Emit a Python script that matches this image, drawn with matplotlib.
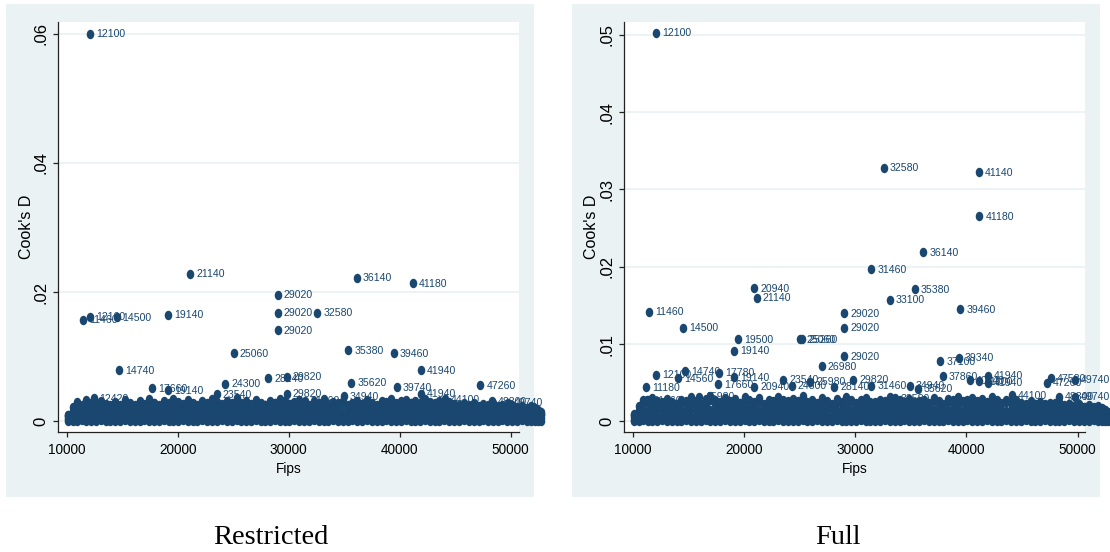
import matplotlib
matplotlib.use("Agg")
import matplotlib.pyplot as plt
from matplotlib import font_manager
from matplotlib.patches import Rectangle
from matplotlib.path import Path
from matplotlib.transforms import Affine2D

# ---- labelled observations (fips, Cook's D, label) ----
restricted_fips = [12100, 21140, 36140, 41180, 29020, 29020, 32580, 29020, 19140, 14500,
                   12100, 11460, 25060, 35380, 39460, 14740, 41940, 28140, 29820, 24300,
                   35620, 47260, 17660, 19140, 39740, 29820, 23540, 34940, 41940, 44100,
                   12420, 31460, 48300, 49740, 11020]
restricted_cook = [0.0600, 0.0228, 0.0222, 0.0214, 0.0196, 0.0168, 0.0168, 0.0141, 0.0165, 0.0161,
                   0.0162, 0.0157, 0.0105, 0.0110, 0.0105, 0.0079, 0.0079, 0.0067, 0.0069, 0.0058,
                   0.0060, 0.0056, 0.0051, 0.0048, 0.0053, 0.0043, 0.0042, 0.0039, 0.0043, 0.0034,
                   0.0036, 0.0032, 0.0031, 0.0029, 0.0024]
restricted_labels = [str(f) for f in restricted_fips]

full_fips = [12100, 32580, 41140, 41180, 36140, 31460, 20940, 35380, 21140, 33100,
             39460, 11460, 29020, 29020, 14500, 19500, 25060, 25260, 19140, 29020,
             39340, 37660, 26980, 14740, 17780, 12100, 37860, 41940, 41940, 19140,
             14100, 29820, 23540, 40340, 41100, 25980, 47260, 47580, 49740, 17660,
             20940, 24300, 28140, 31460, 34940, 11180, 35620, 44100, 15980, 48300,
             49740, 11260, 33580]
full_cook = [0.0503, 0.0328, 0.0322, 0.0265, 0.0219, 0.0197, 0.0172, 0.0171, 0.0160, 0.0157,
             0.0145, 0.0142, 0.0140, 0.0121, 0.0121, 0.0106, 0.0106, 0.0106, 0.0091, 0.0084,
             0.0082, 0.0078, 0.0071, 0.0065, 0.0063, 0.0060, 0.0058, 0.0059, 0.0050, 0.0057,
             0.0056, 0.0054, 0.0054, 0.0053, 0.0052, 0.0051, 0.0050, 0.0056, 0.0054, 0.0048,
             0.0045, 0.0046, 0.0045, 0.0046, 0.0046, 0.0044, 0.0042, 0.0034, 0.0032, 0.0032,
             0.0032, 0.0027, 0.0030]
full_labels = ["12100", "32580", "41140", "41180", "36140", "31460", "20940", "35380", "21140", "33100",
               "39460", "11460", "29020", "29020", "14500", "19500", "25060", "25260", "19140", "29020",
               "39340", "37100", "26980", "14740", "17780", "12100", "37860", "41940", "41940", "19140",
               "14560", "29820", "23540", "40340", "41100", "25980", "47260", "47580", "49740", "17660",
               "20940", "24300", "28140", "31460", "34940", "11180", "35620", "44100", "15980", "48300",
               "49740", "11260", "33580"]

# ---- the dense mass of small values (Cook's D in units of 1e-4) ----
cloud_fips = [10100, 10540, 10900, 11340, 11780, 12220, 12620, 13060, 13500, 13940,
              14380, 14820, 15260, 15700, 16140, 16580, 16980, 17420, 17860, 18300,
              18740, 19180, 19620, 20060, 20500, 20940, 21340, 21780, 22220, 22660,
              23100, 23540, 23980, 24420, 24860, 25300, 25700, 26140, 26580, 27020,
              27460, 27900, 28340, 28780, 29220, 29660, 30060, 30500, 30940, 31380,
              31820, 32260, 32700, 33140, 33580, 34020, 34420, 34860, 35300, 35740,
              36180, 36620, 37060, 37500, 37940, 38380, 38780, 39220, 39660, 40100,
              40540, 40980, 41420, 41860, 42300, 42740, 43140, 43580, 44020, 44460,
              44900, 45340, 45780, 46220, 46660, 47100, 47500, 47940, 48380, 48820,
              49260, 49700, 50140, 50580, 51020, 51460, 51860, 52180, 52480, 52700]

restricted_lo = [0, 1, 0, 2, 1, 0, 1, 2, 0, 1, 1, 0, 2, 1, 0, 1, 2, 0, 1, 0,
                 2, 1, 0, 1, 2, 0, 1, 0, 2, 1, 0, 1, 2, 0, 1, 2, 0, 1, 0, 2,
                 1, 0, 1, 2, 0, 1, 0, 2, 1, 0, 1, 2, 0, 1, 0, 2, 1, 0, 1, 2,
                 0, 1, 2, 0, 1, 0, 2, 1, 0, 1, 2, 0, 1, 0, 2, 1, 0, 1, 2, 0,
                 1, 0, 2, 1, 0, 1, 2, 0, 1, 0, 2, 1, 0, 1, 2, 0, 1, 0, 1, 0]
restricted_mid = [3, 6, 8, 7, 9, 8, 7, 9, 8, 7, 8, 9, 7, 8, 9, 7, 8, 9, 8, 7,
                  9, 8, 7, 9, 8, 9, 7, 8, 9, 8, 7, 9, 8, 7, 9, 8, 7, 9, 8, 9,
                  8, 7, 9, 8, 7, 9, 8, 7, 9, 8, 7, 9, 8, 9, 7, 8, 9, 7, 8, 9,
                  8, 7, 9, 8, 9, 7, 8, 9, 8, 7, 9, 8, 7, 9, 8, 9, 7, 8, 9, 8,
                  8, 9, 7, 8, 9, 7, 8, 9, 7, 8, 9, 7, 8, 9, 7, 8, 6, 7, 6, 5]
restricted_hi = [6, 12, 16, 15, 17, 16, 18, 15, 17, 16, 18, 15, 17, 16, 18, 17, 15, 18, 16, 17,
                 17, 18, 16, 17, 15, 18, 16, 17, 18, 16, 17, 16, 18, 15, 17, 18, 16, 17, 15, 18,
                 16, 17, 18, 16, 17, 15, 18, 16, 17, 18, 16, 18, 15, 17, 16, 18, 17, 15, 16, 18,
                 17, 16, 18, 17, 15, 18, 16, 17, 18, 17, 18, 17, 16, 18, 17, 16, 18, 17, 15, 17,
                 16, 18, 15, 17, 16, 15, 17, 16, 15, 16, 15, 14, 16, 13, 15, 14, 12, 13, 11, 9]
restricted_top = [9, 16, 24, 20, 22, 26, 28, 22, 25, 21, 24, 20, 27, 23, 21, 26, 22, 25, 28, 23,
                  24, 27, 22, 29, 25, 23, 27, 24, 21, 26, 23, 28, 25, 22, 26, 24, 21, 27, 23, 25,
                  22, 26, 24, 28, 23, 21, 27, 25, 22, 26, 24, 22, 27, 23, 25, 21, 26, 28, 24, 22,
                  25, 23, 27, 24, 22, 26, 28, 25, 23, 27, 26, 29, 24, 27, 25, 23, 28, 24, 26, 22,
                  23, 21, 25, 22, 24, 20, 23, 21, 24, 20, 21, 19, 22, 18, 20, 17, 19, 16, 15, 12]
restricted_up = [10, 22, 30, 26, 33, 28, 24, 31, 27, 25, 30, 26, 33, 28, 25, 31, 27, 34, 29, 26,
                 32, 28, 35, 30, 27, 33, 29, 26, 31, 28, 34, 30, 27, 32, 29, 36, 28, 31, 27, 33,
                 29, 26, 32, 28, 35, 31, 27, 30, 33, 28, 26, 31, 29, 34, 27, 30, 28, 32, 26, 29,
                 31, 27, 33, 29, 26, 32, 30, 35, 28, 31, 33, 29, 32, 28, 34, 30, 27, 31, 28, 30,
                 27, 25, 29, 26, 28, 24, 27, 25, 28, 24, 25, 23, 26, 22, 24, 21, 23, 20, 18, 14]

full_lo = [0, 1, 2, 0, 1, 0, 2, 1, 0, 1, 0, 2, 1, 0, 1, 2, 0, 1, 0, 2,
           1, 0, 1, 2, 0, 1, 2, 0, 1, 0, 2, 1, 0, 1, 0, 2, 1, 0, 2, 1,
           0, 1, 2, 0, 1, 0, 1, 2, 0, 1, 0, 1, 2, 0, 1, 0, 2, 1, 0, 1,
           2, 0, 1, 0, 1, 2, 0, 1, 0, 2, 1, 0, 1, 2, 0, 1, 0, 2, 1, 0,
           1, 2, 0, 1, 0, 2, 1, 0, 1, 0, 2, 1, 0, 1, 0, 2, 1, 0, 1, 0]
full_mid = [2, 5, 7, 6, 8, 7, 6, 8, 7, 6, 7, 8, 6, 7, 8, 6, 7, 8, 7, 6,
            8, 7, 6, 8, 7, 8, 6, 7, 8, 7, 6, 8, 7, 6, 8, 7, 6, 8, 7, 8,
            7, 6, 8, 7, 6, 8, 7, 6, 8, 7, 6, 8, 7, 8, 6, 7, 8, 6, 7, 8,
            7, 6, 8, 7, 8, 6, 7, 8, 7, 6, 8, 7, 6, 8, 7, 8, 6, 7, 8, 7,
            7, 8, 6, 7, 8, 6, 7, 8, 6, 7, 8, 6, 7, 8, 6, 7, 6, 5, 6, 4]
full_hi = [5, 11, 14, 13, 15, 14, 16, 13, 15, 14, 15, 13, 16, 14, 15, 13, 15, 14, 16, 13,
           14, 16, 13, 15, 14, 16, 13, 15, 14, 16, 15, 13, 16, 14, 15, 13, 16, 14, 15, 13,
           14, 16, 13, 15, 16, 14, 13, 15, 14, 16, 13, 15, 14, 16, 13, 15, 16, 14, 15, 13,
           16, 14, 15, 13, 16, 15, 14, 16, 13, 15, 14, 16, 15, 13, 16, 14, 15, 13, 14, 16,
           15, 13, 14, 16, 13, 15, 14, 13, 15, 14, 13, 14, 12, 14, 13, 12, 13, 11, 12, 9]
full_top = [8, 15, 22, 27, 20, 23, 25, 21, 24, 20, 22, 26, 21, 24, 19, 23, 28, 22, 25, 21,
            23, 20, 24, 22, 26, 21, 25, 20, 23, 22, 24, 21, 26, 23, 20, 25, 22, 24, 21, 23,
            25, 21, 24, 22, 20, 26, 23, 21, 24, 22, 25, 21, 23, 26, 22, 24, 20, 23, 25, 21,
            24, 22, 26, 23, 21, 25, 24, 22, 26, 23, 25, 22, 24, 21, 26, 23, 22, 25, 24, 21,
            23, 21, 24, 22, 20, 23, 21, 24, 22, 20, 22, 19, 21, 18, 20, 17, 18, 16, 14, 11]
full_up = [9, 20, 27, 24, 30, 26, 22, 29, 25, 23, 28, 24, 31, 26, 23, 29, 33, 27, 24, 30,
           26, 29, 24, 32, 27, 25, 30, 23, 28, 26, 31, 27, 24, 29, 26, 33, 25, 28, 24, 30,
           26, 23, 29, 25, 32, 28, 24, 27, 30, 25, 23, 28, 26, 31, 24, 27, 25, 29, 23, 26,
           28, 24, 30, 26, 23, 29, 27, 32, 25, 28, 30, 26, 29, 25, 31, 27, 24, 28, 25, 27,
           24, 22, 26, 23, 25, 21, 24, 22, 25, 21, 22, 20, 23, 19, 21, 18, 20, 17, 15, 12]

panels = [
    dict(caption="Restricted", fips=restricted_fips, cook=restricted_cook, labels=restricted_labels,
         rows=[restricted_lo, restricted_mid, restricted_hi, restricted_top, restricted_up],
         yticks=[0, 0.02, 0.04, 0.06], yticklabels=["0", ".02", ".04", ".06"]),
    dict(caption="Full", fips=full_fips, cook=full_cook, labels=full_labels,
         rows=[full_lo, full_mid, full_hi, full_top, full_up],
         yticks=[0, 0.01, 0.02, 0.03, 0.04, 0.05],
         yticklabels=["0", ".01", ".02", ".03", ".04", ".05"]),
]
xticks = [10000, 20000, 30000, 40000, 50000]

NAVY = "#1a476f"
BLUISH = "#eaf2f3"
AXIS = "#222222"

available = {f.name for f in font_manager.fontManager.ttflist}
if "Liberation Sans Narrow" in available:
    narrow, tick_size, mark_size = "Liberation Sans Narrow", 11.5, 8.8
else:
    narrow, tick_size, mark_size = "Liberation Sans", 9.8, 7.6
plt.rcParams["font.family"] = ["Liberation Sans", "DejaVu Sans"]

# Stata dots are drawn slightly taller than wide in this picture
dot = Path.unit_circle().transformed(Affine2D().scale(0.8, 1.0))
DOT_SIZE = 6.8

W, H = 1110, 552
fig = plt.figure(figsize=(W / 100, H / 100), dpi=100)
fig.patch.set_facecolor("white")

# layout in pixels: outer panel (x0, x1), plot region (x0, x1), limits
layout = [
    dict(outer=(6, 534), plot=(58.3, 519.3), xlim=(9243, 50775), ylim=(-0.00161, 0.06176),
         ylab_x=26.8, cap_x=271),
    dict(outer=(571.7, 1100), plot=(624.3, 1085), xlim=(9245, 50674), ylim=(-0.001345, 0.05162),
         ylab_x=592, cap_x=838),
]
outer_top, outer_bot = 4, 496.7
plot_top, plot_bot = 22.3, 431.7

# graph-region backgrounds, behind everything
bg = fig.add_axes([0, 0, 1, 1], zorder=-5)
bg.set_xlim(0, W)
bg.set_ylim(H, 0)
bg.axis("off")
for lay in layout:
    ox0, ox1 = lay["outer"]
    bg.add_patch(Rectangle((ox0, outer_top), ox1 - ox0, outer_bot - outer_top,
                           facecolor=BLUISH, edgecolor="none"))

for p, lay in zip(panels, layout):
    px0, px1 = lay["plot"]
    ax = fig.add_axes([px0 / W, 1 - plot_bot / H, (px1 - px0) / W, (plot_bot - plot_top) / H])
    ax.set_facecolor("white")
    ax.set_xlim(*lay["xlim"])
    ax.set_ylim(*lay["ylim"])
    for side in ["top", "right"]:
        ax.spines[side].set_visible(False)
    for side in ["left", "bottom"]:
        ax.spines[side].set_color(AXIS)
        ax.spines[side].set_linewidth(0.9)

    ax.set_yticks(p["yticks"])
    ax.set_yticklabels(p["yticklabels"], rotation=90, fontsize=12, va="center")
    ax.set_xticks(xticks)
    ax.set_xticklabels([str(t) for t in xticks], fontsize=tick_size, family=narrow)
    ax.tick_params(axis="both", direction="out", length=3.9, width=0.9, color=AXIS)
    ax.tick_params(axis="x", pad=4.5)
    ax.tick_params(axis="y", pad=3.2)
    ax.yaxis.grid(True, color=BLUISH, linewidth=1.3)
    ax.set_axisbelow(True)

    ax.set_ylabel("Cook's D", fontsize=11.5, ha="center", va="center")
    ax.yaxis.set_label_coords((lay["ylab_x"] - px0) / (px1 - px0), 0.5)
    ax.set_xlabel("Fips", fontsize=tick_size, family=narrow, va="center")
    ax.xaxis.set_label_coords(0.5, (plot_bot - 469.3) / (plot_bot - plot_top))

    # labelled points
    ax.plot(p["fips"], p["cook"], linestyle="none", marker=dot, markersize=DOT_SIZE,
            markeredgewidth=0, color=NAVY, clip_on=False, zorder=3)
    for f, c, lab in zip(p["fips"], p["cook"], p["labels"]):
        ax.annotate(lab, (f, c), xytext=(6, -0.5), textcoords="offset pixels",
                    ha="left", va="center", fontsize=mark_size, family=narrow,
                    color=NAVY, zorder=2.5, annotation_clip=False)

    # dense mass near zero
    for row in p["rows"]:
        ax.plot(cloud_fips, [v * 1e-4 for v in row], linestyle="none", marker=dot,
                markersize=DOT_SIZE, markeredgewidth=0, color=NAVY, clip_on=False, zorder=3)

    fig.text(lay["cap_x"] / W, 1 - 538 / H, p["caption"], family="Liberation Serif",
             fontsize=20.5, ha="center", va="center", color="black")

fig.savefig("out.png", dpi=100)
